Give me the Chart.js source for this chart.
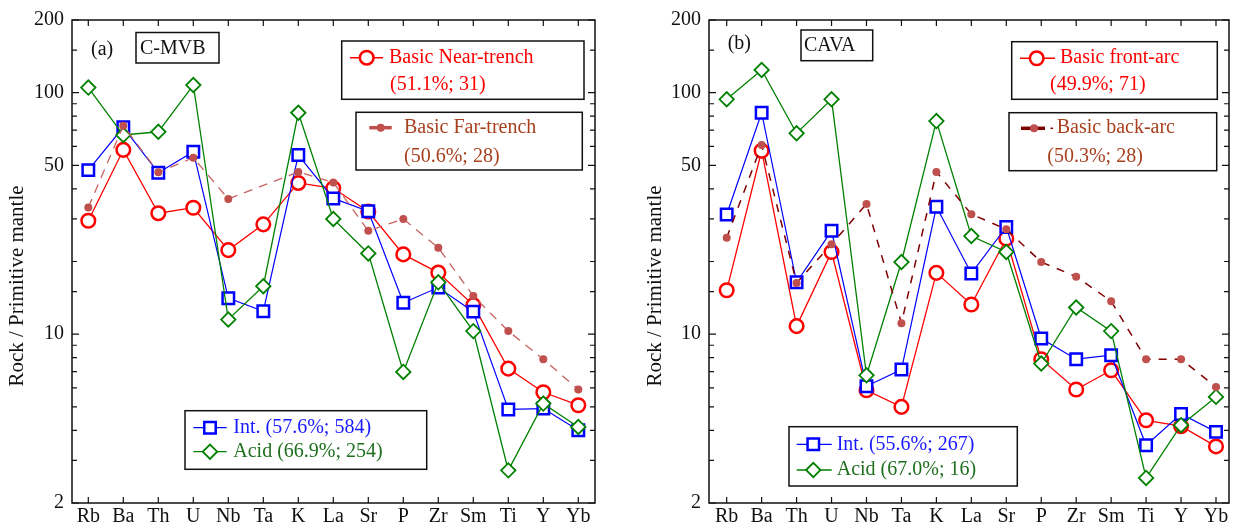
<!DOCTYPE html>
<html><head><meta charset="utf-8">
<script src="https://cdn.jsdelivr.net/npm/chart.js@4.4.1/dist/chart.umd.min.js"></script>
<style>
html,body{margin:0;padding:0;background:#fff;}
#wrap{position:relative;width:1242px;height:530px;overflow:hidden;background:#fff;}
canvas{position:absolute;top:0;}
</style></head><body>
<div id="wrap">
<canvas id="c1" width="620" height="530" style="left:0px"></canvas>
<canvas id="c2" width="622" height="530" style="left:620px"></canvas>
</div>
<script>
// ---------- DATA ----------
const elements = ['Rb','Ba','Th','U','Nb','Ta','K','La','Sr','P','Zr','Sm','Ti','Y','Yb'];
const yTickValues = [2, 10, 50, 100, 200];
const yMinorValues = [3,4,5,6,7,8,9,15,20,30,40,60,70,80,90,150];

// (a) C-MVB
const aNearTrench = [29.5, 58, 31.7, 33.4, 22.3, 28.5, 42.3, 40.2, 32.2, 21.4, 18.0, 13.2, 7.2, 5.75, 5.08];
const aFarTrench  = [33.5, 73, 46.8, 53.8, 36.3, null, 47.0, 42.5, 26.8, 30.0, 22.8, 14.4, 10.3, 7.88, 5.9];
const aInt        = [47.8, 71.9, 46.6, 57.0, 14.1, 12.45, 55.2, 36.5, 32.3, 13.5, 15.6, 12.4, 4.88, 4.92, 4.0];
const aAcid       = [105, 66.8, 68.9, 107.6, 11.5, 15.8, 82.6, 30.0, 21.6, 6.98, 16.4, 10.3, 2.73, 5.16, 4.13];

// (b) CAVA
const bFrontArc = [15.2, 57.5, 10.8, 21.9, 5.86, 5.0, 17.95, 13.27, 24.9, 7.88, 5.9, 7.09, 4.40, 4.16, 3.43];
const bBackArc  = [25.1, 60.7, 16.3, 23.6, 34.6, 11.1, 47.0, 31.4, 27.2, 19.9, 17.3, 13.7, 7.88, 7.88, 6.05];
const bInt      = [31.3, 82.6, 16.4, 26.8, 6.09, 7.14, 33.7, 17.85, 27.8, 9.6, 7.88, 8.18, 3.47, 4.67, 3.94];
const bAcid     = [93.9, 124.2, 67.9, 93.9, 6.76, 19.9, 76.3, 25.5, 21.9, 7.56, 12.9, 10.3, 2.54, 4.2, 5.5];

// ---------- STYLE ----------
const FONT = '"Liberation Serif", "Times New Roman", serif';
const RED = '#ff0000', BLUE = '#0000ff', GREEN = '#008000', DOT = '#c0504d';
const TXT_FAR = '#a8401e', TXT_BLUE = '#1a1aff', TXT_GREEN = '#1f6f1f';

function pts(arr){ return arr.map((v,i)=>({x:i, y:v})); }

function text(ctx, s, x, y, color, size, align){
  ctx.save();
  ctx.font = size + 'px ' + FONT;
  ctx.fillStyle = color; ctx.textAlign = align || 'left'; ctx.textBaseline = 'middle';
  ctx.fillText(s, x, y);
  ctx.restore();
}
function box(ctx, x, y, w, h){
  ctx.save(); ctx.strokeStyle = '#111'; ctx.lineWidth = 1.5;
  ctx.strokeRect(x, y, w, h); ctx.restore();
}
function marker(ctx, type, x, y, color, r, bw){
  ctx.save();
  ctx.strokeStyle = color; ctx.lineWidth = bw; ctx.fillStyle = '#fff';
  ctx.beginPath();
  if (type === 'circle') ctx.arc(x, y, r, 0, Math.PI*2);
  else if (type === 'rect'){ const s = r*Math.SQRT1_2; ctx.rect(x-s, y-s, 2*s, 2*s); }
  else if (type === 'rectRot'){ ctx.moveTo(x-r,y); ctx.lineTo(x,y-r); ctx.lineTo(x+r,y); ctx.lineTo(x,y+r); ctx.closePath(); }
  else if (type === 'dot'){ ctx.arc(x, y, r, 0, Math.PI*2); ctx.fillStyle = color; ctx.fill(); ctx.restore(); return; }
  ctx.fill(); ctx.stroke(); ctx.restore();
}
function seg(ctx, x1, x2, y, color, w){
  ctx.save(); ctx.strokeStyle = color; ctx.lineWidth = w;
  ctx.beginPath(); ctx.moveTo(x1, y); ctx.lineTo(x2, y); ctx.stroke(); ctx.restore();
}

function makeChart(id, ox, padRight, xMin, xMax, series, deco){
  const ctx = document.getElementById(id).getContext('2d');
  const axisWidth = (id === 'c1') ? 72 : 89;
  const framePlugin = {
    id: 'frame',
    afterDraw(chart){
      const c = chart.ctx, a = chart.chartArea;
      const xs = chart.scales.x, ys = chart.scales.y;
      c.save();
      c.strokeStyle = '#111'; c.lineWidth = 1.5;
      c.strokeRect(a.left, a.top, a.right - a.left, a.bottom - a.top);
      c.lineWidth = 1.2; c.beginPath();
      // category ticks (inward) top & bottom
      elements.forEach((_, i) => {
        const px = xs.getPixelForValue(i);
        c.moveTo(px, a.bottom); c.lineTo(px, a.bottom - 6);
        c.moveTo(px, a.top); c.lineTo(px, a.top + 6);
      });
      // y ticks inward left & right
      yTickValues.concat(yMinorValues).forEach(v => {
        const py = ys.getPixelForValue(v);
        const L = yTickValues.includes(v) ? 7 : 5;
        c.moveTo(a.left, py); c.lineTo(a.left + L, py);
        c.moveTo(a.right, py); c.lineTo(a.right - L, py);
      });
      c.stroke();
      c.restore();
      deco(c, ox);
    }
  };
  return new Chart(ctx, {
    type: 'line',
    data: { datasets: series },
    options: {
      responsive: false, animation: false, devicePixelRatio: 1,
      layout: { padding: { left: 0, right: padRight, top: 20, bottom: 0 } },
      plugins: { legend: { display: false }, tooltip: { enabled: false } },
      scales: {
        x: {
          type: 'linear', min: xMin, max: xMax,
          grid: { display: false, drawTicks: false }, border: { display: false },
          afterBuildTicks: s => { s.ticks = elements.map((_, i) => ({ value: i })); },
          afterFit: s => { s.height = 27; },
          ticks: { autoSkip: false, maxRotation: 0, padding: 2, color: '#111',
                   font: { family: FONT, size: 20 }, callback: v => elements[v] ?? '' }
        },
        y: {
          type: 'logarithmic', min: 2, max: 200,
          grid: { display: false, drawTicks: false }, border: { display: false },
          afterBuildTicks: s => { s.ticks = yTickValues.map(v => ({ value: v })); },
          afterFit: s => { s.width = axisWidth; },
          ticks: { autoSkip: false, padding: 8, color: '#111',
                   font: { family: FONT, size: 20 }, callback: v => String(v) }
        }
      }
    },
    plugins: [framePlugin]
  });
}

function redDs(d){ return { data: pts(d), order: 3, borderColor: RED, borderWidth: 1.3, pointStyle: 'circle',
  pointRadius: 6.8, pointBorderWidth: 2.5, pointBorderColor: RED, pointBackgroundColor: '#fff', clip: false }; }
function blueDs(d){ return { data: pts(d), order: 2, borderColor: BLUE, borderWidth: 1.2, pointStyle: 'rect',
  pointRadius: 8.1, pointBorderWidth: 2.5, pointBorderColor: BLUE, pointBackgroundColor: '#fff', clip: false }; }
function greenDs(d){ return { data: pts(d), order: 1, borderColor: GREEN, borderWidth: 1.3, pointStyle: 'rectRot',
  pointRadius: 7.2, pointBorderWidth: 1.8, pointBorderColor: GREEN, pointBackgroundColor: '#fff', clip: false }; }
function dotDs(d, lineColor, w, dash){ return { data: pts(d), order: 0, borderColor: lineColor, borderWidth: w, borderDash: dash,
  spanGaps: true, pointStyle: 'circle', pointRadius: 4, pointBorderWidth: 0, pointBackgroundColor: DOT, clip: false }; }

function yTitle(c, x, y){
  c.save(); c.translate(x, y); c.rotate(-Math.PI/2);
  c.font = '21px ' + FONT; c.fillStyle = '#111'; c.textAlign = 'center'; c.textBaseline = 'middle';
  c.fillText('Rock / Primitive mantle', 0, 0); c.restore();
}

// ---------- PANEL (a) ----------
makeChart('c1', 0, 25, -0.466, 14.477, [
  dotDs(aFarTrench, '#c86262', 1.3, [9, 7]),
  greenDs(aAcid), blueDs(aInt), redDs(aNearTrench)
], (c, ox) => {
  yTitle(c, 17 - ox, 286);
  text(c, '(a)', 91 - ox, 50, '#111', 20);
  box(c, 136 - ox, 32.5, 83, 30.5);
  text(c, 'C-MVB', 140 - ox, 49, '#111', 20);
  // Near-trench
  box(c, 341.7 - ox, 41, 242.3, 58.3);
  seg(c, 350 - ox, 383 - ox, 57.7, RED, 1.5);
  marker(c, 'circle', 366.7 - ox, 57.7, RED, 6.8, 2.5);
  text(c, 'Basic Near-trench', 389 - ox, 58, RED, 20);
  text(c, '(51.1%; 31)', 390 - ox, 85, RED, 20);
  // Far-trench
  box(c, 356 - ox, 112.3, 226.3, 57.7);
  seg(c, 369.3 - ox, 391.7 - ox, 127.7, DOT, 3.5);
  marker(c, 'dot', 380.7 - ox, 127.7, DOT, 4);
  text(c, 'Basic Far-trench', 404 - ox, 127.5, TXT_FAR, 20);
  text(c, '(50.6%; 28)', 404 - ox, 156.7, TXT_FAR, 20);
  // Int / Acid
  box(c, 185 - ox, 410.7, 241.7, 58.6);
  seg(c, 193.3 - ox, 226.7 - ox, 427.7, BLUE, 1.3);
  marker(c, 'rect', 210 - ox, 427.7, BLUE, 8.1, 2.5);
  text(c, 'Int. (57.6%; 584)', 233.3 - ox, 428, TXT_BLUE, 20);
  seg(c, 193.3 - ox, 226.7 - ox, 451.7, GREEN, 1.3);
  marker(c, 'rectRot', 210 - ox, 451.7, GREEN, 7.2, 1.8);
  text(c, 'Acid (66.9%; 254)', 233.3 - ox, 452, TXT_GREEN, 20);
});

// ---------- PANEL (b) ----------
makeChart('c2', 620, 13, -0.506, 14.372, [
  dotDs(bBackArc, '#800000', 1.5, [8, 8]),
  greenDs(bAcid), blueDs(bInt), redDs(bFrontArc)
], (c, ox) => {
  yTitle(c, 655 - ox, 286);
  text(c, '(b)', 727.7 - ox, 43.3, '#111', 20);
  box(c, 801 - ox, 30, 71.7, 30.7);
  text(c, 'CAVA', 804 - ox, 46, '#111', 20);
  // front-arc
  box(c, 1011.7 - ox, 41.7, 205.6, 57.6);
  seg(c, 1020 - ox, 1055 - ox, 58.3, RED, 1.5);
  marker(c, 'circle', 1036.7 - ox, 58.3, RED, 6.8, 2.5);
  text(c, 'Basic front-arc', 1060 - ox, 58, RED, 20);
  text(c, '(49.9%; 71)', 1050 - ox, 85, RED, 20);
  // back-arc
  box(c, 1009 - ox, 112.7, 207.7, 58);
  seg(c, 1021 - ox, 1045 - ox, 128.3, '#800000', 3.5);
  seg(c, 1050.5 - ox, 1053 - ox, 128.3, '#800000', 1.5);
  marker(c, 'dot', 1034 - ox, 128.3, DOT, 4);
  text(c, 'Basic back-arc', 1056.7 - ox, 128, TXT_FAR, 20);
  text(c, '(50.3%; 28)', 1047.3 - ox, 157, TXT_FAR, 20);
  // Int / Acid
  box(c, 789 - ox, 426.7, 228.3, 59.3);
  seg(c, 796.7 - ox, 831.7 - ox, 444.3, BLUE, 1.3);
  marker(c, 'rect', 813.3 - ox, 444.3, BLUE, 8.1, 2.5);
  text(c, 'Int. (55.6%; 267)', 836.7 - ox, 444.3, TXT_BLUE, 20);
  seg(c, 796.7 - ox, 831.7 - ox, 470, GREEN, 1.3);
  marker(c, 'rectRot', 813.3 - ox, 470, GREEN, 7.2, 1.8);
  text(c, 'Acid (67.0%; 16)', 836.7 - ox, 470, TXT_GREEN, 20);
});
</script>
</body></html>
